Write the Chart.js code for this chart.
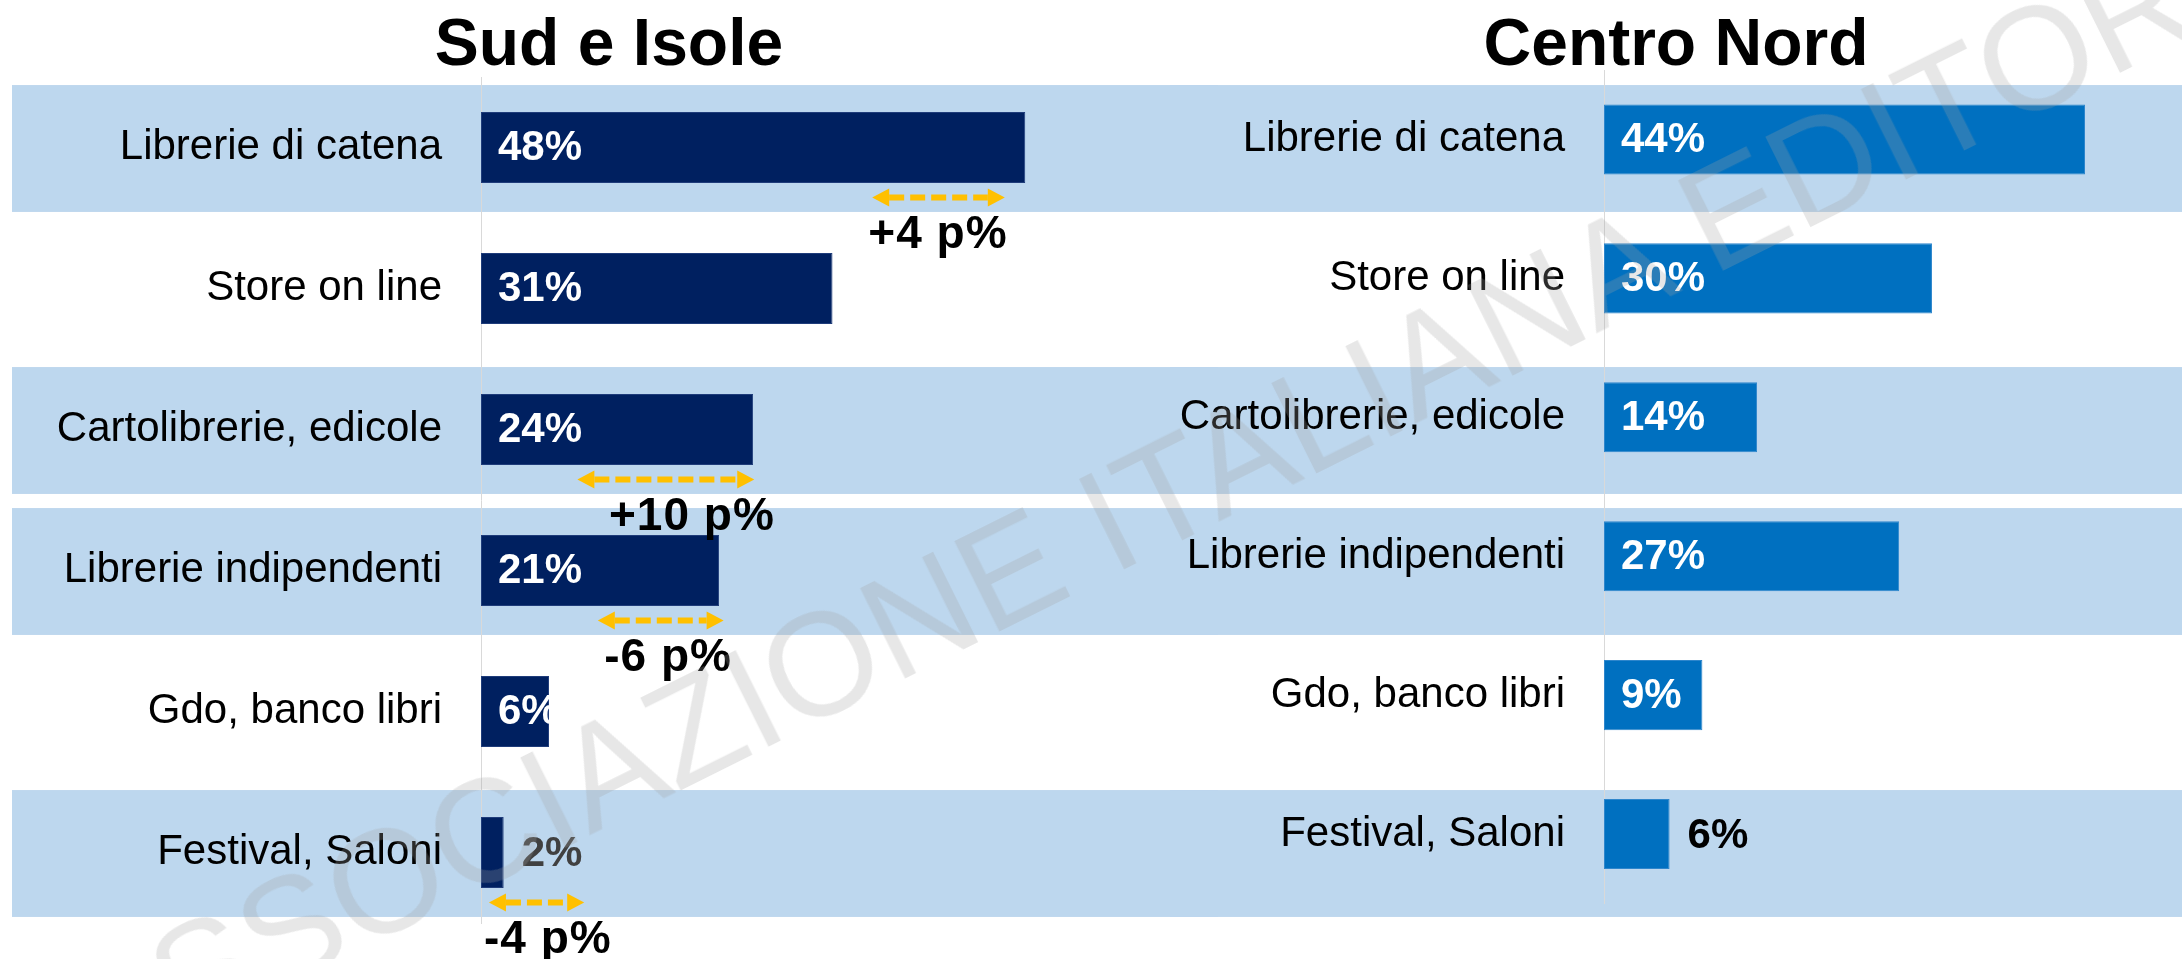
<!DOCTYPE html>
<html>
<head>
<meta charset="utf-8">
<script src="https://cdn.jsdelivr.net/npm/chart.js@4.4.1/dist/chart.umd.min.js"></script>
<style>
  html, body { margin: 0; padding: 0; background: #ffffff; }
  #wrap { position: relative; width: 2182px; height: 959px; overflow: hidden; background: #ffffff; }
  #cSud { position: absolute; left: 0; top: 0; }
  #cNord { position: absolute; left: 1170px; top: 0; }
  #wm {
    position: absolute; white-space: nowrap; pointer-events: none;
    font-family: "Liberation Sans", Arial, sans-serif; font-size: 146px; line-height: 1;
    color: rgba(164,164,164,0.26);
    left: 96px; top: 959px; transform-origin: 0 123.6px; transform: rotate(-26.5deg);
  }
</style>
</head>
<body>
<div id="wrap">
  <canvas id="cSud" width="1218" height="959"></canvas>
  <canvas id="cNord" width="1012" height="959"></canvas>
  <div id="wm">ASSOCIAZIONE ITALIANA EDITORI</div>
</div>
<script>
// ---- data ----
const categories = ['Librerie di catena', 'Store on line', 'Cartolibrerie, edicole', 'Librerie indipendenti', 'Gdo, banco libri', 'Festival, Saloni'];
const sudValues = [48, 31, 24, 21, 6, 2];
const nordValues = [44, 30, 14, 27, 9, 6];
const sudTitle = 'Sud e Isole';
const nordTitle = 'Centro Nord';
const shadedRows = [true, false, true, true, false, true];
const sudLabelInside = [true, true, true, true, true, false];
const nordLabelInside = [true, true, true, true, true, false];
// change vs previous survey (Sud e Isole), arrow span expressed in axis units (%)
const sudChangeLabels = ['+4 p%', null, '+10 p%', '-6 p%', null, '-4 p%'];
const sudChangeFrom = [34.5, null, 8.5, 10.3, null, 0.7];
const sudChangeTo = [46.2, null, 24.1, 21.4, null, 9.1];
const sudChangeLabelAt = [40.3, null, 18.6, 16.5, null, 5.9];

const FONT = "'Liberation Sans', Arial, sans-serif";
Chart.defaults.font.family = FONT;
Chart.defaults.color = '#000000';

let sudChart = null;

function bandsPlugin(xStart) {
  return {
    id: 'bands',
    beforeDraw(chart) {
      const ref = sudChart || chart;
      const ys = ref.scales.y;
      const step = (ys.bottom - ys.top) / categories.length;
      const h = step * 0.9;
      const ctx = chart.ctx;
      ctx.save();
      ctx.fillStyle = '#BDD7EE';
      shadedRows.forEach((s, i) => {
        if (!s) return;
        const c = ys.getPixelForValue(i) + 1;
        ctx.fillRect(xStart, c - h / 2, chart.width - xStart, h);
      });
      ctx.restore();
    }
  };
}

function valueLabelsPlugin(values, inside, outsideColor) {
  return {
    id: 'valueLabels',
    afterDatasetsDraw(chart) {
      const ctx = chart.ctx;
      const meta = chart.getDatasetMeta(0);
      meta.data.forEach((bar, i) => {
        const p = bar.getProps(['x', 'y', 'base', 'height'], true);
        const txt = values[i] + '%';
        ctx.save();
        ctx.font = 'bold 42px ' + FONT;
        ctx.textBaseline = 'middle';
        ctx.textAlign = 'left';
        if (inside[i]) {
          ctx.beginPath();
          ctx.rect(p.base, p.y - p.height / 2, p.x - p.base, p.height);
          ctx.clip();
          ctx.fillStyle = '#FFFFFF';
          ctx.fillText(txt, p.base + 17, p.y + 1);
        } else {
          ctx.fillStyle = outsideColor;
          ctx.fillText(txt, p.x + 18, p.y + 2);
        }
        ctx.restore();
      });
    }
  };
}

function drawArrow(ctx, x1, x2, y) {
  const hl = 17, hh = 9;
  ctx.save();
  ctx.strokeStyle = '#FFC000';
  ctx.fillStyle = '#FFC000';
  ctx.lineWidth = 6;
  ctx.setLineDash([15, 6]);
  ctx.beginPath();
  ctx.moveTo(x1 + hl, y);
  ctx.lineTo(x2 - hl, y);
  ctx.stroke();
  ctx.setLineDash([]);
  ctx.beginPath();
  ctx.moveTo(x1, y); ctx.lineTo(x1 + hl, y - hh); ctx.lineTo(x1 + hl, y + hh); ctx.closePath(); ctx.fill();
  ctx.beginPath();
  ctx.moveTo(x2, y); ctx.lineTo(x2 - hl, y - hh); ctx.lineTo(x2 - hl, y + hh); ctx.closePath(); ctx.fill();
  ctx.restore();
}

const changePlugin = {
  id: 'changeArrows',
  afterDatasetsDraw(chart) {
    const ctx = chart.ctx;
    const xs = chart.scales.x, ys = chart.scales.y;
    const step = (ys.bottom - ys.top) / categories.length;
    sudChangeLabels.forEach((lab, i) => {
      if (!lab) return;
      const c = ys.getPixelForValue(i);
      drawArrow(ctx, xs.getPixelForValue(sudChangeFrom[i]), xs.getPixelForValue(sudChangeTo[i]), c + step * 0.355);
      ctx.save();
      ctx.font = 'bold 46px ' + FONT;
      try { ctx.letterSpacing = '1px'; } catch (e) {}
      ctx.fillStyle = '#000000';
      ctx.textAlign = 'center';
      ctx.textBaseline = 'middle';
      ctx.fillText(lab, xs.getPixelForValue(sudChangeLabelAt[i]), c + step * 0.625);
      ctx.restore();
    });
  }
};

function makeChart(canvasId, title, values, color, border, xMax, axisWidth, titleFont, titlePad, padBottom, plugins) {
  return new Chart(document.getElementById(canvasId), {
    type: 'bar',
    data: {
      labels: categories,
      datasets: [{
        data: values,
        backgroundColor: color,
        borderColor: border,
        borderWidth: 1,
        borderSkipped: false,
        barPercentage: 0.505,
        categoryPercentage: 1
      }]
    },
    options: {
      indexAxis: 'y',
      responsive: false,
      animation: false,
      layout: { padding: { left: 0, right: 0, top: 0, bottom: padBottom } },
      plugins: {
        legend: { display: false },
        tooltip: { enabled: false },
        title: {
          display: true,
          text: title,
          color: '#000000',
          font: titleFont,
          padding: titlePad
        }
      },
      scales: {
        x: { display: false, min: 0, max: xMax },
        y: {
          grid: { display: false, drawTicks: false },
          border: { display: true, color: '#D9D9D9', width: 1 },
          ticks: { autoSkip: false, padding: 39, color: '#000000', font: { size: 42, family: FONT } },
          afterFit(scale) {
            scale.width = axisWidth;
            scale.paddingTop = 0;
            scale.paddingBottom = 0;
          }
        }
      }
    },
    plugins: plugins
  });
}

sudChart = makeChart('cSud', sudTitle, sudValues, '#002060', '#1F3C7A', 65.0, 481,
  { size: 66, weight: 'bold', lineHeight: 0.9, family: FONT }, { top: 17.3, bottom: 0.3 }, 36,
  [bandsPlugin(12), valueLabelsPlugin(sudValues, sudLabelInside, '#404040'), changePlugin]);

const nordChart = makeChart('cNord', nordTitle, nordValues, '#0070C0', '#2E86CC', 52.87, 434,
  { size: 66, weight: 'bold', lineHeight: 0.7, family: FONT }, { top: 23.6, bottom: 0.2 }, 55.5,
  [bandsPlugin(0), valueLabelsPlugin(nordValues, nordLabelInside, '#000000')]);
</script>
</body>
</html>
